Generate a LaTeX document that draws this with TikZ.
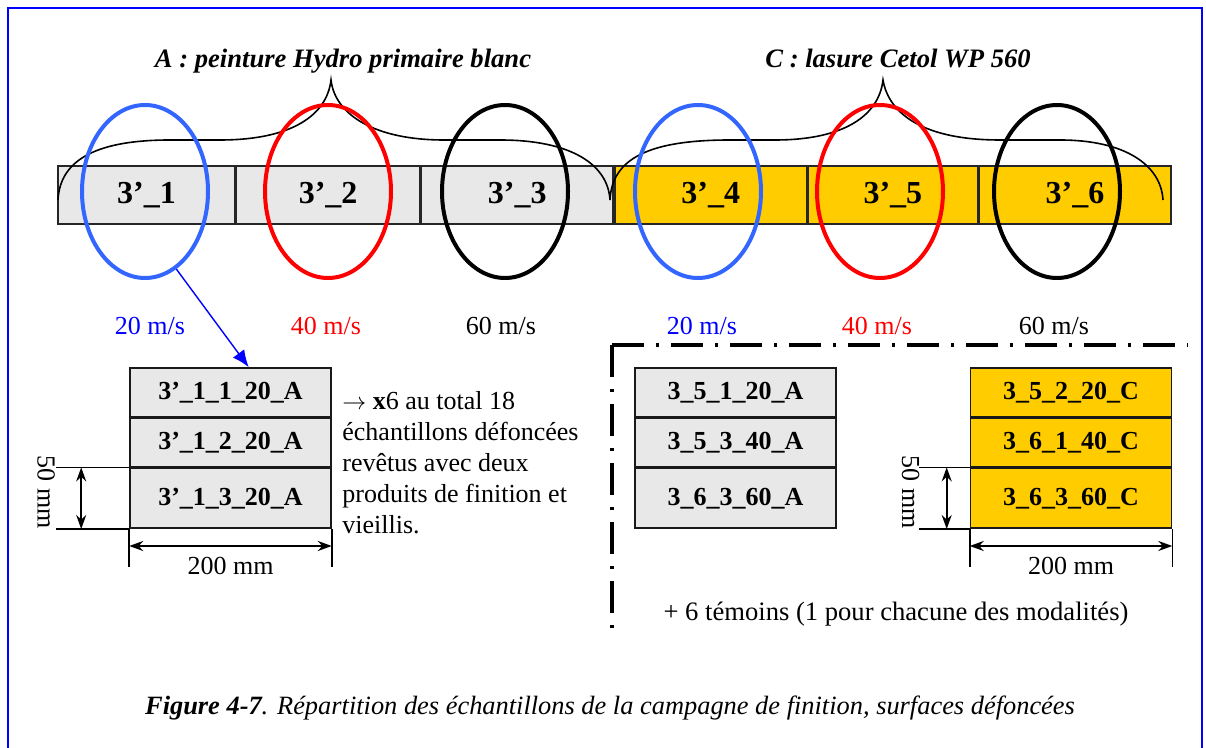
\documentclass[tikz,border=0pt]{standalone}
\usepackage{fontspec}
\setmainfont{Liberation Serif}
\usepackage{tikz}
\usetikzlibrary{positioning, arrows.meta, shapes.geometric, calc}
\definecolor{grayfill}{HTML}{E8E8E8}
\definecolor{yellowfill}{HTML}{FFCC00}
\definecolor{ringblue}{HTML}{3366FF}
\definecolor{textblue}{HTML}{0000FF}
\definecolor{textred}{HTML}{FF0000}

\begin{document}
\begin{tikzpicture}[x=0.5pt, y=-0.5pt,
    cell/.style={rectangle, draw=black!85, line width=0.8pt, minimum height=29pt, inner sep=0pt, font=\fontsize{16}{19}\selectfont\bfseries},
    ring/.style={ellipse, draw, line width=2pt, minimum width=63pt, minimum height=86.5pt, inner sep=0pt},
    sample/.style={rectangle, draw=black!90, line width=0.8pt, minimum width=100.5pt, inner sep=0pt, font=\fontsize{13}{15}\selectfont\bfseries},
    speed/.style={font=\fontsize{13}{15.5}\selectfont},
    title/.style={font=\fontsize{13.3}{15}\selectfont\bfseries\itshape},
    dim/.style={{Stealth[length=7pt,width=5pt]}-{Stealth[length=7pt,width=5pt]}, line width=0.8pt},
    dashdot/.style={line width=1.7pt, dash pattern=on 16pt off 6pt on 1.5pt off 6pt}]
    \useasboundingbox (0,0) rectangle (1206,748);

    % Frame
    \draw[textblue, line width=1.2pt] (8,748) -- (8,8) -- (1202,8) -- (1202,748);

    % Strip of samples
    \node[cell, fill=grayfill, minimum width=88.5pt] (c1) at (146.5,195) {3’\_1};
    \node[cell, fill=grayfill, minimum width=91.5pt, right=0pt of c1] (c2) {3’\_2};
    \node[cell, fill=grayfill, minimum width=96pt, right=0pt of c2] (c3) {3’\_3};
    \node[cell, fill=yellowfill, minimum width=96pt, right=0pt of c3] (c4) {3’\_4};
    \node[cell, fill=yellowfill, minimum width=84.5pt, right=0pt of c4] (c5) {3’\_5};
    \node[cell, fill=yellowfill, minimum width=96pt, right=0pt of c5] (c6) {3’\_6};

    % Braces
    \draw[line width=0.8pt] (58,200) .. controls (60,158) and (100,140) .. (170,140) -- (220,140)
        .. controls (292,140) and (327,115) .. (331,80) .. controls (335,115) and (375,140) .. (444,140)
        -- (500,140) .. controls (572,140) and (608,165) .. (610,200);
    \draw[line width=0.8pt] (610,200) .. controls (612,158) and (650,140) .. (730,140) -- (775,140)
        .. controls (845,140) and (879,115) .. (883,80) .. controls (889,115) and (925,140) .. (1000,140)
        -- (1060,140) .. controls (1125,140) and (1161,165) .. (1163,200);
    \node[title, anchor=base] (tA) at (343,68) {A : peinture Hydro primaire blanc};
    \node[title, anchor=base] (tC) at (898,68) {C : lasure Cetol WP 560};

    % Speed rings
    \node[ring, draw=ringblue] (e1) at (145,191.5) {};
    \node[ring, draw=textred] (e2) at (328,191.5) {};
    \node[ring] (e3) at (505,191.5) {};
    \node[ring, draw=ringblue] (e4) at (698,191.5) {};
    \node[ring, draw=textred] (e5) at (880,191.5) {};
    \node[ring] (e6) at (1057,191.5) {};

    \node[speed, textblue, anchor=base] (v1) at (150,335) {20 m/s};
    \node[speed, textred, anchor=base] (v2) at (326,335) {40 m/s};
    \node[speed, anchor=base] (v3) at (501,335) {60 m/s};
    \node[speed, textblue, anchor=base] (v4) at (702,335) {20 m/s};
    \node[speed, textred, anchor=base] (v5) at (877,335) {40 m/s};
    \node[speed, anchor=base] (v6) at (1054,335) {60 m/s};

    % Samples of 3'_1
    \node[sample, fill=grayfill, minimum height=24.5pt] (s11) at (230.5,392.5) {3’\_1\_1\_20\_A};
    \node[sample, fill=grayfill, minimum height=24pt, below=0pt of s11] (s12) {3’\_1\_2\_20\_A};
    \node[sample, fill=grayfill, minimum height=30pt, below=0pt of s12] (s13) {3’\_1\_3\_20\_A};

    \draw[textblue, line width=0.7pt, -{Latex[length=8.5pt,width=7pt]}] (e1.-68) -- ($(s11.north west)!0.59!(s11.north east)$);

    \draw[line width=0.8pt] (s13.north west) -- ++(-73,0); \draw[line width=0.8pt] (s13.south west) -- ++(-73,0);
    \draw[dim] ([xshift=-24pt]s13.north west) -- ([xshift=-24pt]s13.south west);
    \node[speed, rotate=-90] (h1) at ([xshift=-41.5pt, yshift=3pt]s13.west) {50 mm};
    \draw[line width=0.8pt] (s13.south west) -- ++(0,38); \draw[line width=0.8pt] (s13.south east) -- ++(0,38);
    \draw[dim] ([yshift=-8.5pt]s13.south west) -- ([yshift=-8.5pt]s13.south east);
    \node[speed] (w1) at ([yshift=-18.5pt]s13.south) {200 mm};

    \node[speed, align=left, anchor=north west, inner sep=0pt] (note) at (342,391)
        {$\rightarrow$ \textbf{x}6 au total 18\\ échantillons défoncées\\ revêtus avec deux\\ produits de finition et\\ vieillis.};

    % Other samples
    \coordinate (corner) at (612,345);
    \draw[dashdot] (corner) -- (1188,345);
    \draw[dashdot] (corner) -- (612,632);

    \node[sample, fill=grayfill, minimum height=24.5pt] (s21) at (735.5,392.5) {3\_5\_1\_20\_A};
    \node[sample, fill=grayfill, minimum height=24pt, below=0pt of s21] (s22) {3\_5\_3\_40\_A};
    \node[sample, fill=grayfill, minimum height=30pt, below=0pt of s22] (s23) {3\_6\_3\_60\_A};

    \node[sample, fill=yellowfill, minimum height=24.5pt] (s31) at (1071,392.5) {3\_5\_2\_20\_C};
    \node[sample, fill=yellowfill, minimum height=24pt, below=0pt of s31] (s32) {3\_6\_1\_40\_C};
    \node[sample, fill=yellowfill, minimum height=30pt, below=0pt of s32] (s33) {3\_6\_3\_60\_C};

    \draw[line width=0.8pt] (s33.north west) -- ++(-51,0); \draw[line width=0.8pt] (s33.south west) -- ++(-51,0);
    \draw[dim] ([xshift=-11.5pt]s33.north west) -- ([xshift=-11.5pt]s33.south west);
    \node[speed, rotate=-90] (h2) at ([xshift=-29.5pt, yshift=3pt]s33.west) {50 mm};
    \draw[line width=0.8pt] (s33.south west) -- ++(0,38); \draw[line width=0.8pt] (s33.south east) -- ++(0,38);
    \draw[dim] ([yshift=-8.5pt]s33.south west) -- ([yshift=-8.5pt]s33.south east);
    \node[speed] (w2) at ([yshift=-18.5pt]s33.south) {200 mm};

    \node[speed, font=\fontsize{13.3}{15.5}\selectfont, anchor=base] (tem) at (896,621) {+ 6 témoins (1 pour chacune des modalités)};

    % Caption
    \node[speed, font=\fontsize{13.2}{15}\selectfont\itshape, anchor=base] (cap) at (610,714)
        {\textbf{Figure 4-7}. Répartition des échantillons de la campagne de finition, surfaces défoncées};
\end{tikzpicture}
\end{document}
